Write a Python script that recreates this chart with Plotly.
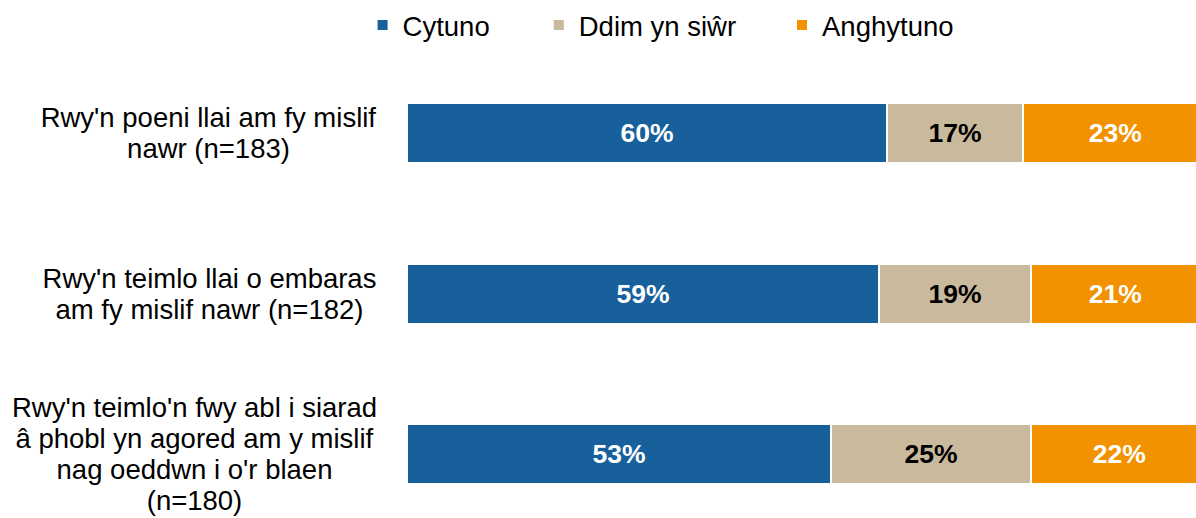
import plotly.graph_objects as go

categories = [
    "Rwy'n poeni llai am fy mislif<br>nawr (n=183)",
    "Rwy'n teimlo llai o embaras<br>am fy mislif nawr (n=182)",
    "Rwy'n teimlo'n fwy abl i siarad<br>â phobl yn agored am y mislif<br>nag oeddwn i o'r blaen<br>(n=180)",
]
cytuno = [60, 59, 53]
ddim = [17, 19, 25]
anghytuno = [23, 21, 22]

series = [
    ("Cytuno", cytuno, "#18609C", "white", "legend"),
    ("Ddim yn siŵr", ddim, "#C9B99D", "black", "legend2"),
    ("Anghytuno", anghytuno, "#F29200", "white", "legend3"),
]

# layout-only: label block widths (px) so lines centre within a right-aligned block
label_block_w = [337, 335, 365]

FONT = "Liberation Sans, Arial, sans-serif"
ypos = list(range(len(categories)))

fig = go.Figure()
for name, vals, color, tcolor, leg in series:
    fig.add_trace(go.Bar(
        y=ypos, x=vals, name=name, orientation="h",
        marker=dict(color=color, line=dict(color="white", width=2)),
        width=0.374,
        text=[f"{v}%" for v in vals],
        textposition="inside", insidetextanchor="middle",
        textfont=dict(family=FONT, size=26.5, color=tcolor, weight="bold"),
        legend=leg,
        hoverinfo="skip",
    ))

LINE_H = 31
for i, c in enumerate(categories):
    lines = c.split("<br>")
    n = len(lines)
    for k, ln in enumerate(lines):
        fig.add_annotation(
            x=0, xref="paper", xshift=-28, xanchor="right",
            y=i, yref="y", yanchor="middle",
            yshift=((n - 1) / 2 - k) * LINE_H,
            text=ln, align="center", showarrow=False, width=label_block_w[i],
            font=dict(family=FONT, size=27.5, color="#000000"),
        )

legend_common = dict(orientation="h", yanchor="middle", y=1.06, xanchor="left",
                     font=dict(family=FONT, size=27.5, color="#000000"),
                     bgcolor="rgba(0,0,0,0)", borderwidth=0)
fig.update_layout(
    barmode="stack",
    width=1196, height=518,
    margin=dict(l=407, r=0, t=53, b=0, autoexpand=False),
    paper_bgcolor="white", plot_bgcolor="white",
    xaxis=dict(range=[0, 98.6], visible=False, fixedrange=True),
    yaxis=dict(range=[2.4, -0.5], visible=False, fixedrange=True),
    legend=dict(x=-0.0563, **legend_common),
    legend2=dict(x=0.167, **legend_common),
    legend3=dict(x=0.4753, **legend_common),
    showlegend=True,
)

fig.write_html("out.html", config={"displayModeBar": False},
               post_script="document.body.style.margin='0px';document.body.style.overflow='hidden';")
